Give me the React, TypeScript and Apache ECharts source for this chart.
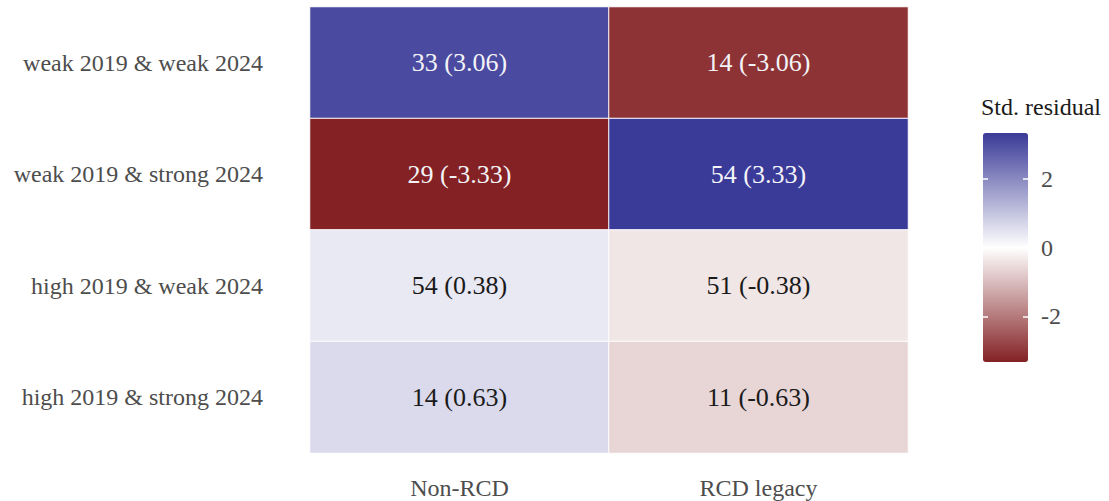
import React, { useEffect, useRef } from "react";
import * as echarts from "echarts";

const colCategories = ["Non-RCD", "RCD legacy"];
const rowCategories = [
  "weak 2019 & weak 2024",
  "weak 2019 & strong 2024",
  "high 2019 & weak 2024",
  "high 2019 & strong 2024",
];
const countsNonRCD = [33, 29, 54, 14];
const countsRCD = [14, 54, 51, 11];
const residNonRCD = [3.06, -3.33, 0.38, 0.63];
const residRCD = [-3.06, 3.33, -0.38, -0.63];
const legendTicks = [-2, 0, 2];
const residMin = -3.33;
const residMax = 3.33;

const FONT = "'Liberation Serif', 'Times New Roman', serif";

export default function App() {
  const ref = useRef<HTMLDivElement>(null);
  useEffect(() => {
    document.body.style.margin = "0";
    const chart = echarts.init(ref.current!, null, { renderer: "svg" });
    const data: any[] = [];
    const cols = [
      { counts: countsNonRCD, resid: residNonRCD },
      { counts: countsRCD, resid: residRCD },
    ];
    cols.forEach((c, xi) => {
      c.counts.forEach((n, yi) => {
        const r = c.resid[yi];
        data.push({
          value: [xi, yi, r, n],
          label: { color: Math.abs(r) > 2 ? "#f4f4f8" : "#1a1a1a" },
        });
      });
    });
    chart.setOption({
      animation: false,
      textStyle: { fontFamily: FONT },
      title: {
        text: "Std. residual",
        left: 981,
        top: 95,
        padding: 0,
        textStyle: { fontFamily: FONT, fontSize: 24, fontWeight: "normal", color: "#1a1a1a" },
      },
      grid: [
        { left: 310, right: 201, top: 7, bottom: 48 },
        { left: 983, top: 133, width: 45, height: 229 },
      ],
      xAxis: [
        {
          type: "category",
          data: colCategories,
          gridIndex: 0,
          axisLine: { show: false },
          axisTick: { show: false },
          splitLine: { show: false },
          axisLabel: { fontFamily: FONT, fontSize: 24, color: "#4d4d4d", margin: 23 },
        },
        { type: "value", gridIndex: 1, show: false, min: 0, max: 1 },
      ],
      yAxis: [
        {
          type: "category",
          data: rowCategories,
          inverse: true,
          gridIndex: 0,
          axisLine: { show: false },
          axisTick: { show: false },
          splitLine: { show: false },
          axisLabel: { fontFamily: FONT, fontSize: 24, color: "#4d4d4d", margin: 47 },
        },
        {
          type: "value",
          gridIndex: 1,
          position: "left",
          min: residMin,
          max: residMax,
          z: 10,
          axisLine: { show: false },
          splitLine: { show: false },
          axisTick: {
            show: true,
            inside: true,
            length: 5,
            customValues: legendTicks,
            lineStyle: { color: "#ffffff", width: 1.5 },
          },
          axisLabel: { show: false },
        },
        {
          type: "value",
          gridIndex: 1,
          position: "right",
          min: residMin,
          max: residMax,
          z: 10,
          axisLine: { show: false },
          splitLine: { show: false },
          axisTick: {
            show: true,
            inside: true,
            length: 5,
            customValues: legendTicks,
            lineStyle: { color: "#ffffff", width: 1.5 },
          },
          axisLabel: {
            show: true,
            customValues: legendTicks,
            margin: 13,
            fontFamily: FONT,
            fontSize: 24,
            color: "#4d4d4d",
            formatter: (v: number) => String(v),
          },
        },
      ],
      visualMap: {
        type: "continuous",
        min: residMin,
        max: residMax,
        dimension: 2,
        seriesIndex: 0,
        calculable: false,
        left: 983,
        top: 133,
        padding: 0,
        itemWidth: 45,
        itemHeight: 229,
        text: null,
        inRange: { color: ["#832124", "#ffffff", "#3a3a98"] },
      },
      series: [
        {
          type: "heatmap",
          xAxisIndex: 0,
          yAxisIndex: 0,
          data,
          itemStyle: { borderColor: "#ffffff", borderWidth: 1 },
          label: {
            show: true,
            fontFamily: FONT,
            fontSize: 26,
            formatter: (p: any) => `${p.value[3]} (${p.value[2].toFixed(2)})`,
          },
          emphasis: { disabled: true },
        },
      ],
    });
    return () => chart.dispose();
  }, []);
  return <div ref={ref} style={{ width: 1109, height: 501 }} />;
}
